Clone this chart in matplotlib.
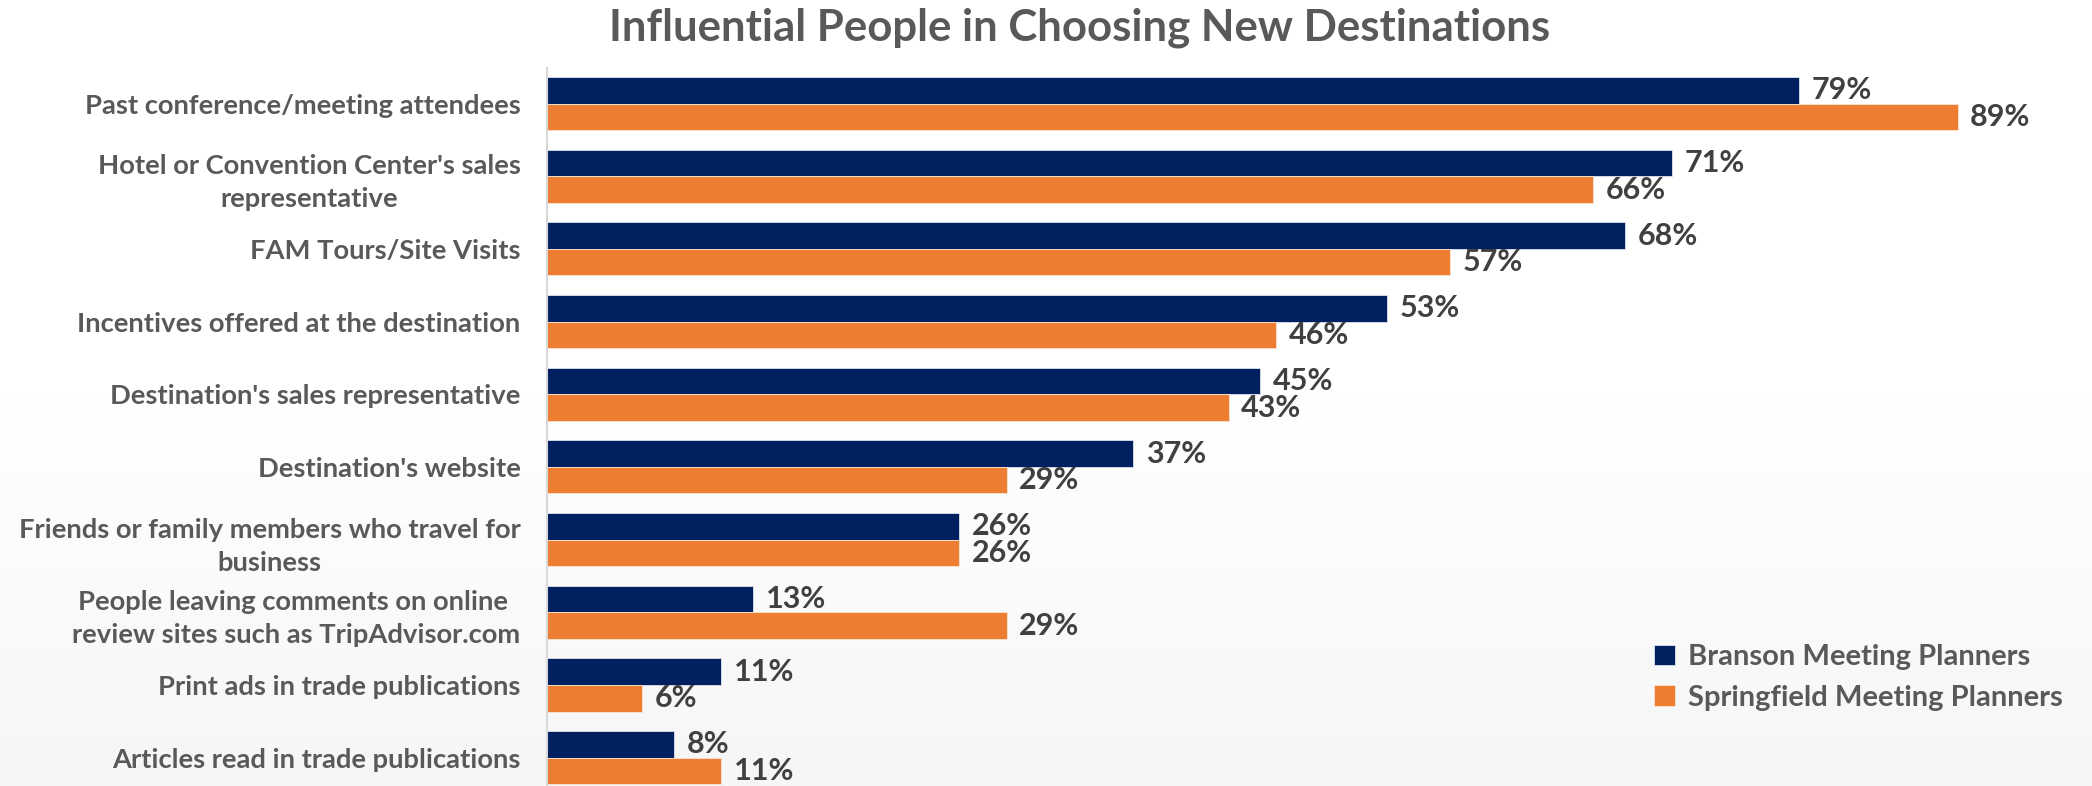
import numpy as np
import matplotlib.pyplot as plt
from matplotlib.colors import LinearSegmentedColormap

categories = [
    "Past conference/meeting attendees",
    "Hotel or Convention Center's sales\nrepresentative",
    "FAM Tours/Site Visits",
    "Incentives offered at the destination",
    "Destination's sales representative",
    "Destination's website",
    "Friends or family members who travel for\nbusiness",
    "People leaving comments on online \nreview sites such as TripAdvisor.com",
    "Print ads in trade publications",
    "Articles read in trade publications",
]
branson = [79, 71, 68, 53, 45, 37, 26, 13, 11, 8]
springfield = [89, 66, 57, 46, 43, 29, 26, 29, 6, 11]
series_names = ["Branson Meeting Planners", "Springfield Meeting Planners"]

navy = "#002060"
orange = "#ED7D31"
text_grey = "#595959"
value_grey = "#404040"

plt.rcParams['font.family'] = ['Lato', 'DejaVu Sans']
plt.rcParams['font.weight'] = 'bold'

fig = plt.figure(figsize=(20.92, 7.86), dpi=100)

# soft white-to-grey backdrop
bg = fig.add_axes([0, 0, 1, 1], zorder=-10)
grad = np.linspace(0, 1, 256).reshape(-1, 1)
cmap = LinearSegmentedColormap.from_list("bg", ["#ffffff", "#ffffff", "#f6f6f6"])
bg.imshow(grad, aspect='auto', cmap=cmap, extent=[0, 1, 0, 1], origin='upper')
bg.axis('off')

ax = fig.add_axes([547 / 2092, 0, 1 - 547 / 2092, 1 - 68 / 786])
ax.patch.set_alpha(0)

y = np.arange(len(categories))
h = 0.365
b1 = ax.barh(y - h / 2, branson, height=h, color=navy, edgecolor='#dde3ee', linewidth=0.6,
             label=series_names[0])
b2 = ax.barh(y + h / 2, springfield, height=h, color=orange, edgecolor='#fbe3d4', linewidth=0.6,
             label=series_names[1])

for bars, vals in [(b1, branson), (b2, springfield)]:
    for bar, v in zip(bars, vals):
        ax.annotate(f"{v}%", (bar.get_width(), bar.get_y() + bar.get_height() / 2),
                    xytext=(9, 0), textcoords='offset points', ha='left', va='center',
                    fontsize=22, fontweight='bold', color=value_grey)

ax.set_xlim(0, (2092 - 547) / 15.85)
ax.set_ylim(len(categories) - 1 + 0.39, -0.49)
ax.set_xticks([])
ax.set_yticks(y)
ax.set_yticklabels(categories, fontsize=19.7, fontweight='bold', color=text_grey,
                   multialignment='center', linespacing=1.45)
ax.tick_params(axis='y', length=0, pad=19)
for s in ['top', 'right', 'bottom']:
    ax.spines[s].set_visible(False)
ax.spines['left'].set_color('#d9d9d9')
ax.spines['left'].set_linewidth(1.5)

fig.text(1080 / 2092, 1 - 28 / 786, "Influential People in Choosing New Destinations",
         ha='center', va='center', fontsize=31.5, fontweight='bold', color=text_grey)

leg = ax.legend(loc='upper left', bbox_to_anchor=(1628 / 2092, 1 - 618 / 786),
                bbox_transform=fig.transFigure, frameon=False, fontsize=21,
                handlelength=0.7, handleheight=0.7, handletextpad=0.45, labelspacing=0.5)
for t in leg.get_texts():
    t.set_color(text_grey)

fig.savefig("out.png", dpi=100)
